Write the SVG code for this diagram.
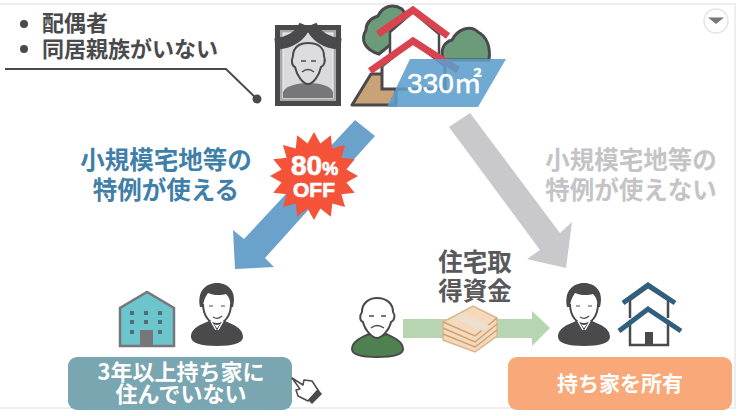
<svg xmlns="http://www.w3.org/2000/svg" width="738" height="416" viewBox="0 0 738 416">
<style>
text{font-family:"Noto Sans CJK JP","Liberation Sans",sans-serif;font-weight:700;text-anchor:middle}
.st{text-anchor:start}
.heavy{font-family:"Liberation Sans",sans-serif;stroke:#fff;stroke-width:.7}
.dk{fill:#4a4a4c}
</style>
<defs>
<g id="man">
<path class="dk" d="M-26 27C-26 17-14 14-6 10L0 18L6 10C14 14 26 17 26 27C26 33 16 36 0 36C-16 36-26 33-26 27Z"/>
<path d="M-6 3V10L0 18L6 10V3Z" fill="#fff"/>
<path d="M-14-12V-6C-14 6-7 14 0 14C7 14 14 6 14-6V-12Z" fill="#fff"/>
<path d="M-14-6C-14 6-7 14 0 14C7 14 14 6 14-6" fill="none" stroke="#4a4a4c" stroke-width="2"/>
<path class="dk" d="M-17-3C-20-18-12-27 0-27C12-27 20-18 16-3L13-3C14-9 12-13 9-16C3-14-5-15-9-17C-12-13-14-8-14-3Z"/>
<path d="M-8-4h4M4-4h4M-4 7Q1 10 5 6" fill="none" stroke="#4a4a4c" stroke-width="1.200"/>
<path d="M-6 11L-1 20M6 11L1 20" fill="none" stroke="#fff" stroke-width="1.500"/>
</g>
</defs>
<rect width="738" height="416" fill="#fff"/>
<path d="M0 4H735V408H0" fill="none" stroke="#eeeeee" stroke-width="2"/>

<g id="connectors">
<path d="M5 69H226L257 99" fill="none" stroke="#4a4a4c" stroke-width="2"/>
<circle cx="257" cy="99" r="4.500" fill="#4a4a4c"/>
<path d="M355 120L375 136L265 258L274 267L235 269L233 230L244 239Z" fill="#6aa2cc"/>
<path d="M449 127L470 113L560 233L572 222L566 268L527 259L540 250Z" fill="#c9c9cc"/>
<path d="M403 319H450V338H403ZM495 319H532V311L550 328L532 346V338H495Z" fill="#b6d5b0"/>
</g>

<g id="conditions">
<circle cx="24" cy="24" r="4" fill="#4a4a4c"/><circle cx="24" cy="49" r="4" fill="#4a4a4c"/>
<text class="st" x="42" y="31" font-size="22" fill="#4a4a4c">配偶者</text>
<text class="st" x="42" y="57" font-size="22" fill="#4a4a4c">同居親族がいない</text>
</g>

<g id="portrait">
<rect x="275" y="25" width="66" height="81" fill="#4a4a4c"/>
<rect x="280" y="30" width="56" height="71" fill="#a9a9ab"/>
<rect x="283" y="33" width="50" height="65" fill="#dadadc" stroke="#f2f2f2"/>
<path d="M283 98V92C285 86 298 83 308 83C320 83 331 86 333 92V98Z" fill="#77777a"/>
<path d="M305 25Q298 42 275 44M311 25Q318 42 341 44" fill="none" stroke="#4a4a4c" stroke-width="12"/>
<path d="M293 56C293 47 300 43 308 43C317 43 324 47 324 56C326 61 324 66 321 67C319 76 313 84 308 84C303 84 297 76 295 67C292 66 291 61 293 56Z" fill="#dcdcde" stroke="#4a4a4c" stroke-width="2"/>
<path d="M301 61h5M311 61h5M302 72Q308 67 314 72" fill="none" stroke="#4a4a4c" stroke-width="1.500"/>
</g>

<g id="property">
<path d="M371 74L352 105H396V74Z" fill="#c8a377" stroke="#4a4a4c" stroke-width="3" stroke-linejoin="round"/>
<path d="M379 54C365 50 360 40 366 30C366 22 372 18 378 16C383 6 393 3 402 9L410 20L390 45Z" fill="#6b9b79" stroke="#4a4a4c" stroke-width="3"/>
<path d="M443 60C440 48 445 42 452 40C457 30 470 24 478 32C486 36 491 46 489 60Z" fill="#6b9b79" stroke="#4a4a4c" stroke-width="3"/>
<path d="M390 32L413 12L439 34V60H390Z" fill="#fff" stroke="#4a4a4c" stroke-width="2.500"/>
<path d="M382 66L413 41L445 66V89H382Z" fill="#fff" stroke="#4a4a4c" stroke-width="3"/>
<path d="M378 34L413 10L448 36M370 71L413 41L458 70" fill="none" stroke="#d9434f" stroke-width="7"/>
<path d="M410 59H506L478 107H387Z" fill="#5c9dcb" fill-opacity=".88"/>
<text class="st" x="407" y="93" font-size="28" fill="#fff" stroke="#fff" stroke-width=".5" style="font-family:'Liberation Sans','Noto Sans CJK JP',sans-serif;font-weight:400">330㎡</text>
</g>

<g id="label-usable">
<text x="166" y="169" font-size="24.500" fill="#3f7fa8">小規模宅地等の</text>
<text x="166" y="199" font-size="24.500" fill="#3f7fa8">特例が使える</text>
</g>
<g id="label-unusable">
<text x="631" y="169" font-size="24.500" fill="#c4c4c7">小規模宅地等の</text>
<text x="631" y="199" font-size="24.500" fill="#c4c4c7">特例が使えない</text>
</g>

<g id="discount">
<polygon transform="translate(314 176)" fill="#f4533a" points="0,-44 6.400,-32.400 16.800,-40.700 18.300,-27.400 31.100,-31.100 27.400,-18.300 40.700,-16.800 32.400,-6.400 44,0 32.400,6.400 40.700,16.800 27.400,18.300 31.100,31.100 18.300,27.400 16.800,40.700 6.400,32.400 0,44 -6.400,32.400 -16.800,40.700 -18.300,27.400 -31.100,31.100 -27.400,18.300 -40.700,16.800 -32.400,6.400 -44,0 -32.400,-6.400 -40.700,-16.800 -27.400,-18.300 -31.100,-31.100 -18.300,-27.400 -16.800,-40.700 -6.400,-32.400"/>
<text class="heavy st" x="291" y="175" font-size="28" fill="#fff">80<tspan font-size="18">%</tspan></text>
<text class="heavy" x="314" y="197" font-size="21" fill="#fff">OFF</text>
</g>

<g id="building">
<path d="M120 346V308L147 292L174 308V346Z" fill="#6cc4cc" stroke="#77777a" stroke-width="2.500"/>
<path d="M140 346V330H153V346Z" fill="#77777a"/>
<path d="M130 311h4v4h-4zM144 311h4v4h-4zM158 311h4v4h-4zM130 320h4v4h-4zM144 320h4v4h-4zM158 320h4v4h-4zM130 330h4v4h-4zM158 330h4v4h-4z" fill="#4f6e78"/>
</g>
<use id="man-left" href="#man" x="217" y="310"/>

<g id="box-left">
<rect x="68" y="357" width="224" height="53" rx="9" fill="#79a6b0"/>
<text x="181" y="380" font-size="22" fill="#fff">3年以上持ち家に</text>
<text x="181" y="402" font-size="22" fill="#fff">住んでいない</text>
</g>

<g id="cursor">
<path d="M292 378L303 385L304 380L312 381L318 390L308 401L298 396L296 390L300 389Z" fill="#fff" stroke="#4a4a4c" stroke-width="1.500" stroke-linejoin="round"/>
<path d="M318 389L322 394L312 404L308 400Z" fill="#4a4a4c"/>
</g>

<g id="father">
<path d="M352 349C352 341 363 337 369 334L377 338L386 334C392 337 403 341 403 349C403 355 392 357 377 357C362 357 352 355 352 349Z" fill="#4f8050" stroke="#4a4a4c" stroke-width="2"/>
<path d="M362 312C362 303 369 298 377 298C386 298 393 303 393 312C396 316 394 321 391 322C389 331 381 338 377 338C373 338 365 331 363 322C360 321 359 316 362 312Z" fill="#fff" stroke="#4a4a4c" stroke-width="2"/>
<path d="M369 316h5M381 316h5M371 328Q377 323 384 328" fill="none" stroke="#4a4a4c" stroke-width="1.500"/>
</g>

<g id="money">
<path d="M443 340L475 352L497 336V318L473 306L443 322Z" fill="#f6d9bb" stroke="#dcb48a" stroke-width="1.500"/>
<path d="M443 322L475 336L497 318M443 328L475 342L497 324M443 334L475 347L497 330" fill="none" stroke="#c9a27c" stroke-width="1.500"/>
<path d="M461 313L490 326L483 331L454 318Z" fill="#eadfd0"/>
</g>

<g id="label-fund">
<text x="475" y="271" font-size="24.500" fill="#59595b">住宅取</text>
<text x="475" y="300" font-size="24.500" fill="#59595b">得資金</text>
</g>

<use id="man-right" href="#man" x="584" y="310"/>
<g id="home-right">
<path d="M630 320V345H668V320M630 318V300L648 287L668 300V318" fill="#fff" stroke="#4a4a4c" stroke-width="2.500"/>
<rect x="645" y="332" width="8" height="13" fill="#4a4a4c"/>
<path d="M623 303L648 285L675 303M619 331L648 309L681 331" fill="none" stroke="#2f617f" stroke-width="5"/>
</g>

<g id="box-right">
<rect x="508" y="357" width="224" height="53" rx="9" fill="#f9a979"/>
<text x="620" y="391" font-size="21" fill="#fff">持ち家を所有</text>
</g>

<g id="dropdown">
<circle cx="716" cy="21" r="12" fill="#fff" stroke="#e4e4e4" stroke-width="1.500"/>
<path d="M708 17.500H724L716 24Z" fill="#777"/>
</g>
</svg>
